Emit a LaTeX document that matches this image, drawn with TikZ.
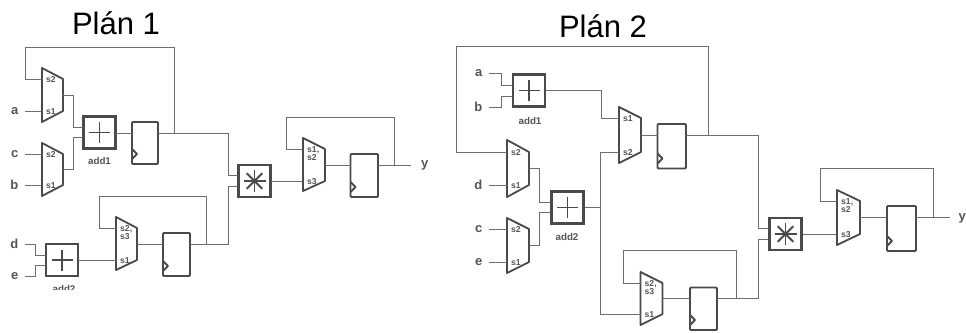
\documentclass[tikz,border=0pt]{standalone}
\usepackage{fontspec}
\setmainfont{Liberation Sans}
\definecolor{wire}{HTML}{6E6E6E}
\definecolor{body}{HTML}{4A4A4A}
\definecolor{ink}{HTML}{555555}
\tikzset{
  wirel/.style={draw=wire,line width=0.9pt},
  muxl/.style={draw=body,line width=1.8pt,line join=round},
  sel/.style={inner sep=0pt,anchor=base west,text=ink,font=\fontsize{8.6}{8}\selectfont\bfseries},
  opbox/.style={draw=body,line width=2.1pt,minimum size=32pt,inner sep=0pt,outer sep=0pt},
  regbox/.style={draw=body,line width=1.8pt,rounded corners=1pt,inner sep=0pt,outer sep=0pt},
  sig/.style={anchor=east,inner sep=0pt,inner xsep=6.5pt,text=ink,font=\fontsize{13}{13}\selectfont\bfseries},
  oplab/.style={inner sep=0pt,anchor=base,text=ink,font=\fontsize{9.8}{10}\selectfont\bfseries},
  title/.style={inner sep=0pt,anchor=base,text=black,font=\fontsize{31}{31}\selectfont},
}
% name, x left, y top, y bottom, x right, y port a, y port b, label a, label b
\newcommand\muxblock[9]{%
  \draw[muxl] (#2,#3) -- (#5,#6) -- (#5,#7) -- (#2,#4) -- cycle;
  \coordinate (#1-a) at (#2,#6);
  \coordinate (#1-b) at (#2,#7);
  \coordinate (#1-o) at (#5,{(#6+#7)/2});
  \node[sel] (#1-la) at ({#2+4},{#6+3}) {#8};
  \node[sel] (#1-lb) at ({#2+4},{#7+3}) {#9};
}
% name, x left, y top, x right, y bottom, y ports
\newcommand\regblock[6]{%
  \pgfmathsetmacro\regw{#4-#2}\pgfmathsetmacro\regh{#5-#3}%
  \node[regbox,minimum width=\regw pt,minimum height=\regh pt] (#1) at ({(#2+#4)/2},{(#3+#5)/2}) {};
  \draw[muxl] (#2,#5-15) -- (#2+5,#5-10) -- (#2,#5-5);
  \coordinate (#1-i) at (#2,#6);
  \coordinate (#1-o) at (#4,#6);
}
\newcommand\plusin[1]{%
  \draw[body,line width=1.8pt] ([xshift=-10.5pt]#1.center) -- ([xshift=10.5pt]#1.center);
  \draw[body,line width=1.8pt] ([yshift=-10.5pt]#1.center) -- ([yshift=10.5pt]#1.center);
}
\newcommand\starin[1]{%
  \foreach \a in {0,45,90,135}{
    \draw[body,line width=1.8pt] ([shift={(\a:11pt)}]#1.center) -- ([shift={(\a+180:11pt)}]#1.center);
  }
}
\newcommand\twolines[2]{\vtop{\hbox{#1}\hbox{#2}}}
\begin{document}
\begin{tikzpicture}[x=1pt,y=-1pt]
\clip (0,0) rectangle (966,332);
\fill[white] (0,0) rectangle (966,332);

% ---------- Plan 1
\node[title] (t1) at (116,34) {Plán 1};
\muxblock{ma}{42}{68}{122}{63}{79}{111}{s2}{s1}
\muxblock{mb}{42}{143}{196}{63}{154}{185}{s2}{s1}
\muxblock{mc}{116}{217}{270}{137}{228}{260}{\twolines{s2,}{s3}}{s1}
\muxblock{md}{303}{138}{191}{325}{149}{181}{\twolines{s1,}{s2}}{s3}
\node[opbox] (addA) at (99.5,132.5) {};
\node[opbox] (addB) at (62,260) {};
\node[opbox] (mulA) at (254.5,181) {};
\plusin{addA}\plusin{addB}\starin{mulA}
\regblock{ra}{132}{122}{158}{164}{133}
\regblock{rb}{163}{233}{190}{276}{244}
\regblock{rc}{350.5}{154}{378}{197}{165}
\node[oplab] (lA) at (99.5,164) {add1};
\begin{scope}
\clip (30,280) rectangle (100,289.5);
\node[oplab] (lB) at (64,292) {add2};
\end{scope}
\node[sig] (a1) at (25,111) {a};
\node[sig] (c1) at (25,154) {c};
\node[sig] (b1) at (25,185) {b};
\node[sig] (d1) at (25,244) {d};
\node[sig] (e1) at (25,276) {e};
\coordinate (y1) at (411,165);
\node[anchor=west,inner sep=0pt,text=ink,font=\fontsize{13}{13}\selectfont\bfseries] (yl1) at (421,165) {y};
\coordinate (addA-a) at (83,127);
\coordinate (addA-b) at (83,137.5);
\coordinate (addB-a) at (46,255);
\coordinate (addB-b) at (46,265.5);
\coordinate (addB-o) at (78,260);
\coordinate (mulA-a) at (238,175);
\coordinate (mulA-b) at (238,186);
\coordinate (mulA-o) at (271,181);
\coordinate (addA-o) at (116,133);
\begin{scope}[wirel]
\draw (a1.east) -- (ma-b);
\draw (c1.east) -- (mb-a);
\draw (b1.east) -- (mb-b);
\draw (ma-o) -| (73,127) -- (addA-a);
\draw (mb-o) -| (73,137.5) -- (addA-b);
\draw (addA-o) -- (ra-i);
\draw (ra-o) -| (228,175) -- (mulA-a);
\draw (174.5,133) |- (25,47) |- (ma-a);
\draw (d1.east) -| (35,255) -- (addB-a);
\draw (e1.east) -| (35,265.5) -- (addB-b);
\draw (addB-o) -- (mc-b);
\draw (mc-o) -- (rb-i);
\draw (rb-o) -| (228,186) -- (mulA-b);
\draw (206,244) |- (99,196) |- (mc-a);
\draw (mulA-o) -- (md-b);
\draw (md-o) -- (rc-i);
\draw (rc-o) -- (y1);
\draw (394,165) |- (286.5,117) |- (md-a);
\end{scope}

% ---------- Plan 2
\node[title] (t2) at (603,37) {Plán 2};
\muxblock{me}{507}{140}{197}{529}{152}{185}{s2}{s1}
\muxblock{mf}{507}{218}{273}{529}{229}{262}{s2}{s1}
\muxblock{mg}{619}{107}{163}{641}{118}{152}{s1}{s2}
\muxblock{mh}{640.5}{272}{325}{662.5}{283}{314}{\twolines{s2,}{s3}}{s1}
\muxblock{mi}{837}{190}{245}{860}{201}{234}{\twolines{s1,}{s2}}{s3}
\node[opbox] (addC) at (529,90.5) {};
\node[opbox] (addD) at (567.5,207.5) {};
\node[opbox] (mulB) at (785.5,234) {};
\plusin{addC}\plusin{addD}\starin{mulB}
\regblock{rd}{657.5}{124}{686}{168.5}{135}
\regblock{re}{690}{287.5}{717}{330}{298.5}
\regblock{rf}{887}{206}{916}{251}{217.5}
\node[oplab] (lC) at (530,124) {add1};
\node[oplab] (lD) at (567,240) {add2};
\node[sig] (a2) at (489,73) {a};
\node[sig] (b2) at (489,107) {b};
\node[sig] (d2) at (489,185) {d};
\node[sig] (c2) at (489,229) {c};
\node[sig] (e2) at (489,262) {e};
\coordinate (y2) at (950,217.5);
\node[anchor=west,inner sep=0pt,text=ink,font=\fontsize{13}{13}\selectfont\bfseries] (yl2) at (958.5,218) {y};
\coordinate (addC-a) at (512,85);
\coordinate (addC-b) at (512,96);
\coordinate (addC-o) at (546,90.5);
\coordinate (addD-a) at (550,202);
\coordinate (addD-b) at (550,212.5);
\coordinate (addD-o) at (585,207);
\coordinate (mulB-a) at (768,228);
\coordinate (mulB-b) at (768,239);
\coordinate (mulB-o) at (803,234);
\begin{scope}[wirel]
\draw (a2.east) -| (501,85) -- (addC-a);
\draw (b2.east) -| (501,96) -- (addC-b);
\draw (addC-o) -| (601,118) -- (mg-a);
\draw (mg-o) -- (rd-i);
\draw (rd-o) -| (758,228) -- (mulB-a);
\draw (708,135) |- (456,46) |- (me-a);
\draw (d2.east) -- (me-b);
\draw (c2.east) -- (mf-a);
\draw (e2.east) -- (mf-b);
\draw (me-o) -| (539.5,202) -- (addD-a);
\draw (mf-o) -| (539.5,212.5) -- (addD-b);
\draw (addD-o) -- (600.5,207);
\draw (mg-b) -| (600.5,207) |- (mh-b);
\draw (mh-o) -- (re-i);
\draw (re-o) -| (758,239) -- (mulB-b);
\draw (736,298.5) |- (623,250) |- (mh-a);
\draw (mulB-o) -- (mi-b);
\draw (mi-o) -- (rf-i);
\draw (rf-o) -- (y2);
\draw (933,217.5) |- (820,168) |- (mi-a);
\end{scope}
\end{tikzpicture}
\end{document}
